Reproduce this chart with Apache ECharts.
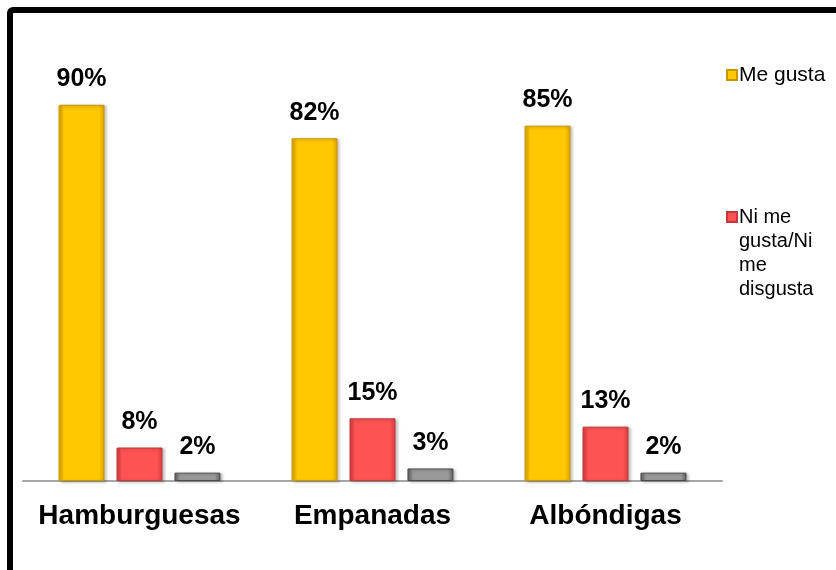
<!DOCTYPE html>
<html>
<head>
<meta charset="utf-8">
<script src="https://cdn.jsdelivr.net/npm/echarts@6/dist/echarts.min.js"></script>
<style>html,body{margin:0;padding:0;background:#fff}#c{width:836px;height:570px}</style>
</head>
<body>
<div id="c"></div>
<script>
const categories = ['Hamburguesas', 'Empanadas', 'Albóndigas'];
const seriesNames = ['Me gusta', 'Ni me gusta/Ni me disgusta', 'Me disgusta'];
const meGusta = [90, 82, 85];
const niMeGusta = [8, 15, 13];
const meDisgusta = [2, 3, 2];
const legendLines = { 'Ni me gusta/Ni me disgusta': ' \n \n \nNi me\ngusta/Ni\nme\ndisgusta' };

const FONT = "'Liberation Sans', Arial, sans-serif";
function grad(edge, mid) {
  return new echarts.graphic.LinearGradient(0, 0, 1, 0, [
    { offset: 0, color: edge }, { offset: 0.12, color: mid },
    { offset: 0.88, color: mid }, { offset: 1, color: edge }
  ]);
}
function mkSeries(name, data, edge, mid, border) {
  return {
    name: name, type: 'bar', data: data, barWidth: 46, barGap: '26%',
    itemStyle: { color: grad(edge, mid), borderColor: border, borderWidth: 1,
      shadowColor: 'rgba(0,0,0,0.25)', shadowBlur: 3, shadowOffsetX: 2, shadowOffsetY: 1 },
    label: { show: true, position: 'top', distance: 13, formatter: '{c}%',
      fontFamily: FONT, fontWeight: 'bold', fontSize: 25, color: '#000' }
  };
}
const chart = echarts.init(document.getElementById('c'));
chart.setOption({
  animation: false,
  backgroundColor: '#fff',
  grid: { left: 23, right: 114, top: 63, bottom: 89 },
  xAxis: { type: 'category', data: categories,
    axisLine: { lineStyle: { color: '#a6a6a6', width: 2 } },
    axisTick: { show: false },
    axisLabel: { interval: 0, margin: 21, fontFamily: FONT, fontWeight: 'bold', fontSize: 28, color: '#000' } },
  yAxis: { type: 'value', min: 0, max: 100, show: false, splitLine: { show: false } },
  legend: [
    { data: [seriesNames[0]], orient: 'vertical', left: 726, top: 63, padding: 0,
      itemWidth: 10, itemHeight: 10, icon: 'rect',
      textStyle: { fontFamily: FONT, fontSize: 21, color: '#000', lineHeight: 24, padding: [0, 0, 0, -3] } },
    { data: [seriesNames[1]], orient: 'vertical', left: 726, top: 133, padding: 0,
      itemWidth: 10, itemHeight: 10, icon: 'rect',
      formatter: function (n) { return legendLines[n] || n; },
      textStyle: { fontFamily: FONT, fontSize: 20, color: '#000', lineHeight: 24, padding: [0, 0, 0, -3] } }
  ],
  graphic: [
    { type: 'rect', shape: { x: 10, y: 10, width: 900, height: 700, r: 3 },
      style: { fill: null, stroke: '#000', lineWidth: 6 }, z: 100 }
  ],
  series: [
    mkSeries(seriesNames[0], meGusta, '#d9a300', '#ffc800', '#c89600'),
    mkSeries(seriesNames[1], niMeGusta, '#d93c3c', '#ff5353', '#c03a3a'),
    mkSeries(seriesNames[2], meDisgusta, '#5f5f5f', '#9a9a9a', '#4a4a4a')
  ]
});
</script>
</body>
</html>
